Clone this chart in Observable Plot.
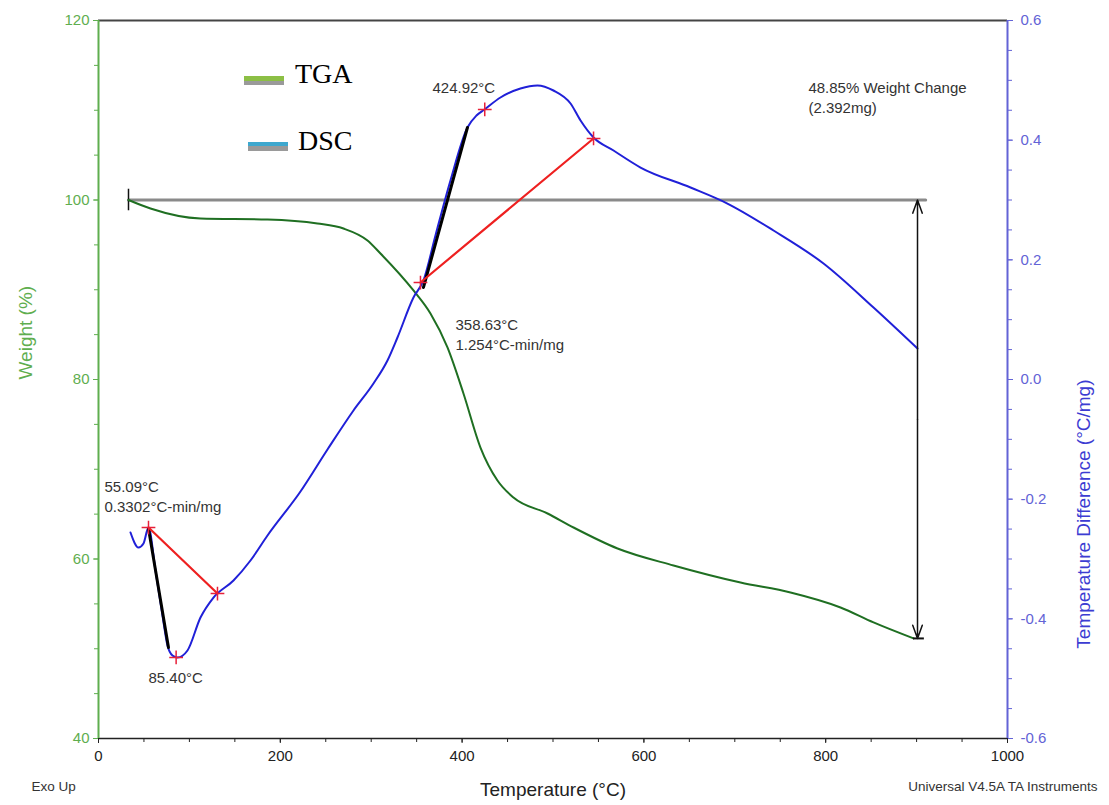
<!DOCTYPE html>
<html><head><meta charset="utf-8">
<script src="https://cdn.jsdelivr.net/npm/d3@7"></script>
<script src="https://cdn.jsdelivr.net/npm/@observablehq/plot@0.6"></script>
<style>
body{margin:0;background:#fff;}
#wrap{position:relative;width:1109px;height:805px;}
.leg{position:absolute;font-family:"Liberation Serif","Times New Roman",serif;font-size:28px;color:#000;line-height:28px;white-space:nowrap;}
.sw{position:absolute;width:40px;}
</style></head><body><div id="wrap"></div>
<script>
// ---- TGA (weight %) ----
const tgaT = [33.0, 57.2, 112.2, 185.9, 240.9, 269.5, 295.9, 310.2, 346.5, 365.2, 383.9, 401.5, 420.2, 438.9, 456.5, 494.0, 522.6, 571.0, 632.6, 706.3, 761.3, 816.3, 852.6, 896.6];
const tgaW = [100.0, 99.05, 97.94, 97.83, 97.38, 96.82, 95.49, 94.04, 89.92, 87.35, 83.57, 78.44, 72.42, 68.75, 66.85, 65.07, 63.51, 61.17, 59.28, 57.38, 56.27, 54.60, 52.93, 51.15];

// ---- DSC (°C/mg) ----
const dscT = [35.2, 44.0, 49.5, 55.0, 62.7, 70.4, 75.9, 81.4, 86.9, 97.9, 112.2, 126.5, 148.5, 167.2, 185.9, 222.2, 251.9, 280.5, 302.5, 317.9, 328.9, 346.5, 357.5, 370.7, 387.2, 405.9, 415.8, 424.6, 442.2, 464.2, 482.9, 500.5, 519.3, 530.3, 544.6, 566.6, 596.3, 651.3, 691.9, 742.6, 797.6, 852.6, 901.0];
const dscD = [-0.2557, -0.2808, -0.2741, -0.2474, -0.3192, -0.3944, -0.4446, -0.4613, -0.4646, -0.4529, -0.3978, -0.3644, -0.3359, -0.3025, -0.2607, -0.1872, -0.1170, -0.0518, -0.0067, 0.0318, 0.0702, 0.1370, 0.1655, 0.2407, 0.3326, 0.4212, 0.4412, 0.4513, 0.4713, 0.4864, 0.4914, 0.4830, 0.4613, 0.4329, 0.4045, 0.3827, 0.3543, 0.3209, 0.2941, 0.2490, 0.1939, 0.1203, 0.0518];

// ---- axes ----
const xTickLabels = [0, 200, 400, 600, 800, 1000];
const xMinorTicks = d3.range(0, 1001, 50);
const wTickLabels = [40, 60, 80, 100, 120];
const wMinorTicks = d3.range(40, 121, 5);
const dTickValues = [0.6, 0.4, 0.2, 0.0, -0.2, -0.4, -0.6];
const dTickLabels = ["0.6", "0.4", "0.2", "0.0", "-0.2", "-0.4", "-0.6"];
const dMinorTicks = d3.range(-0.6, 0.6001, 0.05);

// ---- analysis annotations (data units) ----
const tangentsBlack = [ // DSC units
  [{t: 55.0, d: -0.2490}, {t: 77.0, d: -0.4479}],
  [{t: 357.5, d: 0.1538}, {t: 405.9, d: 0.4212}]
];
const baselinesRed = [
  [{t: 55.0, d: -0.2474}, {t: 130.9, d: -0.3577}],
  [{t: 354.2, d: 0.1621}, {t: 544.6, d: 0.4028}]
];
const redMarks = [
  {t: 55.0, d: -0.2474}, {t: 130.9, d: -0.3577}, {t: 354.2, d: 0.1621},
  {t: 544.6, d: 0.4028}, {t: 424.92, d: 0.4513}, {t: 85.40, d: -0.4646}
];
const refLine = [{t: 33, w: 100}, {t: 910, w: 100}];
const refStartTick = {t: 33, w1: 98.8, w2: 101.2};
const changeArrow = {t: 901, top: 100, bottom: 51.15};
const changeFoot = {t1: 896, t2: 908, w: 51.15};
const notes = [
  {t: 367.4, w: 112.42, text: "424.92°C"},
  {t: 781.0, w: 112.42, text: "48.85% Weight Change"},
  {t: 781.0, w: 110.2, text: "(2.392mg)"},
  {t: 392.7, w: 86.02, text: "358.63°C"},
  {t: 392.7, w: 83.8, text: "1.254°C-min/mg"},
  {t: 6.6, w: 67.97, text: "55.09°C"},
  {t: 6.6, w: 65.74, text: "0.3302°C-min/mg"},
  {t: 55.0, w: 46.68, text: "85.40°C"}
];

// map DSC units onto the weight scale (right axis 0.6..-0.6 ⇔ left 120..40)
const toW = d => 80 + d * 80 / 1.2;

const tga = tgaT.map((t, i) => ({t, w: tgaW[i]}));
const dsc = dscT.map((t, i) => ({t, w: toW(dscD[i])}));
const conv = seg => seg.map(p => ({t: p.t, w: toW(p.d)}));

const green = "#5fae4f", blue = "#6363d6";
const mid = (changeArrow.top + changeArrow.bottom) / 2;

const plot = Plot.plot({
  width: 1109, height: 805,
  marginLeft: 98, marginRight: 102, marginTop: 20, marginBottom: 67,
  style: {fontFamily: "'Liberation Sans', Arial, sans-serif", fontSize: "15px", background: "white", overflow: "visible"},
  x: {domain: [0, 1000]},
  y: {domain: [40, 120]},
  marks: [
    // frame
    Plot.ruleY([120], {stroke: "#444", strokeWidth: 2}),
    Plot.ruleY([40], {stroke: "#222", strokeWidth: 1.5}),
    Plot.ruleX([0], {stroke: green, strokeWidth: 2}),
    Plot.ruleX([1000], {stroke: blue, strokeWidth: 2}),
    // x axis
    Plot.axisX({ticks: xMinorTicks, tickSize: 4, tickFormat: () => "", label: null, color: "#222"}),
    Plot.axisX({ticks: xTickLabels, tickSize: 5, tickPadding: 7, label: null, color: "#222", tickFormat: d => String(d)}),
    // left axis
    Plot.axisY({ticks: wMinorTicks, tickSize: 4, tickFormat: () => "", label: null, color: green}),
    Plot.axisY({ticks: wTickLabels, tickSize: 5, tickPadding: 4, label: null, color: green, tickFormat: d => String(d)}),
    // right axis
    Plot.axisY({anchor: "right", ticks: dMinorTicks.map(toW), tickSize: 4, tickFormat: () => "", label: null, color: blue}),
    Plot.axisY({anchor: "right", ticks: dTickValues.map(toW), tickSize: 5, tickPadding: 8, label: null, color: blue,
      tickFormat: (d, i) => dTickLabels[i]}),
    // reference line & weight change arrow
    Plot.line(refLine, {x: "t", y: "w", stroke: "#8a8a8a", strokeWidth: 3}),
    Plot.ruleX([refStartTick], {x: "t", y1: "w1", y2: "w2", stroke: "#111", strokeWidth: 1.5}),
    // curves
    Plot.line(tga, {x: "t", y: "w", stroke: "#1f6f22", strokeWidth: 2, curve: "monotone-x"}),
    Plot.line(dsc, {x: "t", y: "w", stroke: "#2020d8", strokeWidth: 2, curve: "monotone-x"}),
    // tangents & baselines
    ...tangentsBlack.map(s => Plot.line(conv(s), {x: "t", y: "w", stroke: "#000", strokeWidth: 3})),
    ...baselinesRed.map(s => Plot.line(conv(s), {x: "t", y: "w", stroke: "#ee2020", strokeWidth: 2.2})),
    Plot.dot(conv(redMarks), {x: "t", y: "w", symbol: "plus", r: 4.5, stroke: "#e8203a", strokeWidth: 1.5}),
    Plot.arrow([changeArrow], {x1: "t", x2: "t", y1: () => mid, y2: "top", stroke: "#111", strokeWidth: 1.5, headLength: 14, headAngle: 40}),
    Plot.arrow([changeArrow], {x1: "t", x2: "t", y1: () => mid, y2: "bottom", stroke: "#111", strokeWidth: 1.5, headLength: 14, headAngle: 40}),
    Plot.link([changeFoot], {x1: "t1", x2: "t2", y1: "w", y2: "w", stroke: "#111", strokeWidth: 2}),
    // annotations
    Plot.text(notes, {x: "t", y: "w", text: "text", textAnchor: "start", fill: "#333", fontSize: 15}),
    // axis titles & footer
    Plot.text(["Weight (%)"], {frameAnchor: "left", dx: -73, rotate: -90, text: d => d, fill: green, fontSize: 19}),
    Plot.text(["Temperature Difference (°C/mg)"], {frameAnchor: "right", dx: 76, rotate: -90, text: d => d, fill: "#3c3cd2", fontSize: 19}),
    Plot.text(["Temperature (°C)"], {frameAnchor: "bottom", dy: 57, text: d => d, fill: "#222", fontSize: 19}),
    Plot.text(["Exo Up"], {frameAnchor: "bottom-left", dx: -67, dy: 52, textAnchor: "start", text: d => d, fill: "#333", fontSize: 13.5}),
    Plot.text(["Universal V4.5A TA Instruments"], {frameAnchor: "bottom-right", dx: 90, dy: 52, textAnchor: "end", text: d => d, fill: "#333", fontSize: 13.5})
  ]
});

const wrap = document.getElementById("wrap");
wrap.appendChild(plot);

// legend (inside plot area)
const legend = [
  {label: "TGA", color: "#8cbf45", swX: 244, swY: 76, txtX: 295, txtY: 60},
  {label: "DSC", color: "#3ea8cf", swX: 248, swY: 142, txtX: 298, txtY: 127}
];
for (const l of legend) {
  const sw = document.createElement("div");
  sw.className = "sw";
  sw.style.left = l.swX + "px"; sw.style.top = l.swY + "px"; sw.style.height = "9px";
  sw.style.background = `linear-gradient(to bottom, ${l.color} 0 50%, #9a9a9a 50% 100%)`;
  wrap.appendChild(sw);
  const tx = document.createElement("div");
  tx.className = "leg";
  tx.style.left = l.txtX + "px"; tx.style.top = l.txtY + "px";
  tx.textContent = l.label;
  wrap.appendChild(tx);
}
</script>
</body></html>
